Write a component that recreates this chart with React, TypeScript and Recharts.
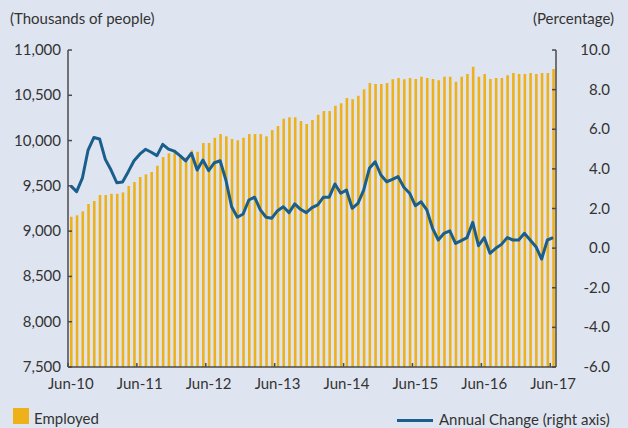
import React from 'react';
import { ComposedChart, Bar, Line, XAxis, YAxis } from 'recharts';

// Monthly, Jun-10 .. Jun-17 (85 months)
const employed = [
  9159, 9175, 9219, 9300, 9333, 9399, 9399, 9413, 9413, 9428, 9498, 9542, 9598, 9627, 9653, 9722, 9818, 9859, 9862, 9829, 9815,
  9892, 9877, 9973, 9973, 10031, 10072, 10047, 10017, 10003, 10031, 10072, 10072, 10072, 10047, 10116, 10161, 10241, 10257, 10257, 10216, 10183, 10227,
  10285, 10326, 10326, 10385, 10411, 10470, 10455, 10495, 10566, 10635, 10624, 10624, 10635, 10676, 10690, 10676, 10690, 10680, 10705, 10690, 10680,
  10665, 10705, 10705, 10650, 10705, 10735, 10815, 10705, 10735, 10680, 10690, 10690, 10720, 10746, 10735, 10735, 10746, 10735, 10746, 10746, 10790,
];

const annualChange = [
  3.14, 2.85, 3.53, 4.95, 5.58, 5.51, 4.48, 3.94, 3.3, 3.34, 3.86, 4.41, 4.74, 4.99, 4.84, 4.67, 5.24, 5.0, 4.9, 4.67, 4.4,
  4.79, 3.94, 4.45, 3.91, 4.31, 4.41, 3.44, 2.09, 1.56, 1.72, 2.43, 2.57, 1.93, 1.56, 1.51, 1.89, 2.09, 1.79, 2.23, 1.96, 1.79,
  2.04, 2.18, 2.57, 2.57, 3.24, 2.77, 2.93, 2.01, 2.26, 2.93, 4.03, 4.36, 3.69, 3.35, 3.47, 3.61, 3.07, 2.77, 2.14, 2.34, 1.93, 1.0,
  0.41, 0.75, 0.87, 0.24, 0.38, 0.53, 1.3, 0.12, 0.53, -0.26, -0.01, 0.19, 0.53, 0.41, 0.41, 0.75, 0.41, 0.07, -0.55, 0.41, 0.53,
];

const xTickIdx = [0, 12, 24, 36, 48, 60, 72, 84];
const xTickLabels = ['Jun-10', 'Jun-11', 'Jun-12', 'Jun-13', 'Jun-14', 'Jun-15', 'Jun-16', 'Jun-17'];
const leftTicks = [7500, 8000, 8500, 9000, 9500, 10000, 10500, 11000];
const rightTicks = [-6, -4, -2, 0, 2, 4, 6, 8, 10];

const data = employed.map((v, i) => ({ idx: i, employed: v, change: annualChange[i] }));

const BG = '#dfe5f0';
const BAR = '#eeb11a';
const LINE = '#1a5e8c';
const AXIS = '#4a4a4a';
const TEXT = '#333333';
const FONT = 'Lato, "Open Sans", sans-serif';

const PLOT_LEFT = 68;
const PLOT_RIGHT = 556;
const BAND_HALF = (PLOT_RIGHT - PLOT_LEFT) / employed.length / 2;

const LeftTick = ({ x, y, payload }: any) => (
  <g>
    <line x1={x + 7} x2={x + 11} y1={y} y2={y} stroke={AXIS} strokeWidth={1.5} />
    <text x={x} y={y} dy={5} textAnchor="end" fill={TEXT} fontSize={15} fontFamily={FONT}>
      {payload.value.toLocaleString('en-US')}
    </text>
  </g>
);

const RightTick = ({ x, y, payload }: any) => (
  <g>
    <line x1={x - 7} x2={x - 11} y1={y} y2={y} stroke={AXIS} strokeWidth={1.5} />
    <text x={x + 47} y={y} dy={5} textAnchor="end" fill={TEXT} fontSize={15} fontFamily={FONT}>
      {payload.value.toFixed(1)}
    </text>
  </g>
);

const BottomTick = ({ x, y, payload }: any) => {
  const label = xTickLabels[xTickIdx.indexOf(payload.value)];
  return (
    <g>
      <line x1={x - BAND_HALF} x2={x - BAND_HALF} y1={y} y2={y - 4} stroke={AXIS} strokeWidth={1.5} />
      <text x={x} y={y} dy={22} textAnchor="middle" fill={TEXT} fontSize={15} fontFamily={FONT}>
        {label}
      </text>
    </g>
  );
};

const label = { position: 'absolute' as const, fontFamily: FONT, fontSize: 15, lineHeight: '18px', color: TEXT, whiteSpace: 'nowrap' as const };

export default function App() {
  return (
    <div style={{ position: 'fixed', left: 0, top: 0, width: 628, height: 428, background: BG, overflow: 'hidden' }}>
      <div style={{ ...label, left: 10, top: 9 }}>(Thousands of people)</div>
      <div style={{ ...label, right: 14, top: 9 }}>(Percentage)</div>

      <div style={{ position: 'absolute', left: 0, top: 0 }}>
        <ComposedChart width={628} height={428} data={data} margin={{ top: 50, right: 12, bottom: 31, left: 8 }}>
          <XAxis
            dataKey="idx"
            type="number"
            domain={[-0.5, 84.5]}
            ticks={xTickIdx}
            interval={0}
            tick={<BottomTick />}
            tickLine={false}
            tickSize={0}
            tickMargin={0}
            height={30}
            axisLine={{ stroke: AXIS, strokeWidth: 1.5 }}
          />
          <YAxis
            yAxisId="left"
            orientation="left"
            domain={[7500, 11000]}
            ticks={leftTicks}
            interval={0}
            width={60}
            tick={<LeftTick />}
            tickLine={false}
            tickSize={0}
            tickMargin={7}
            axisLine={{ stroke: AXIS, strokeWidth: 1.5 }}
          />
          <YAxis
            yAxisId="right"
            orientation="right"
            domain={[-6, 10]}
            ticks={rightTicks}
            interval={0}
            width={60}
            tick={<RightTick />}
            tickLine={false}
            tickSize={0}
            tickMargin={7}
            axisLine={{ stroke: AXIS, strokeWidth: 1.5 }}
          />
          <Bar yAxisId="left" dataKey="employed" fill={BAR} barSize={2.6} isAnimationActive={false} />
          <Line
            yAxisId="right"
            dataKey="change"
            type="linear"
            stroke={LINE}
            strokeWidth={3}
            strokeLinejoin="round"
            dot={false}
            isAnimationActive={false}
          />
        </ComposedChart>
      </div>

      <div style={{ position: 'absolute', left: 13, top: 408, width: 16, height: 16, background: BAR }} />
      <div style={{ ...label, left: 34, top: 409 }}>Employed</div>
      <div style={{ position: 'absolute', left: 397, top: 419, width: 36, height: 3, background: LINE }} />
      <div style={{ ...label, left: 439, top: 410 }}>Annual Change (right axis)</div>
    </div>
  );
}
